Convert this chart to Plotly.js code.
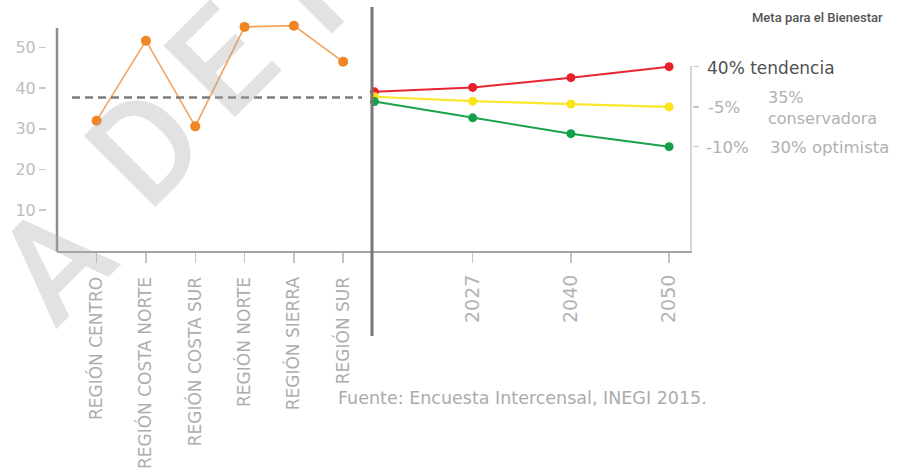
<!DOCTYPE html>
<html>
<head>
<meta charset="utf-8">
<script src="https://cdn.plot.ly/plotly-3.0.1.min.js"></script>
<style>html,body{margin:0;padding:0;background:#fff;}#chart{width:902px;height:474px;}</style>
</head>
<body>
<div id="chart"></div>
<script>
// ---- data ----
const regiones = ['REGIÓN CENTRO', 'REGIÓN COSTA NORTE', 'REGIÓN COSTA SUR', 'REGIÓN NORTE', 'REGIÓN SIERRA', 'REGIÓN SUR'];
const valoresRegion = [32.0, 51.7, 30.6, 55.1, 55.4, 46.5];
const metaBienestar = 37.7;
const anios = ['2015', '2027', '2040', '2050'];
const aniosEtiqueta = ['2027', '2040', '2050'];
const tendencia = [39.1, 40.2, 42.6, 45.3];
const conservadora = [37.9, 36.8, 36.1, 35.4];
const optimista = [36.7, 32.7, 28.8, 25.6];
const yTicks = [10, 20, 30, 40, 50];
const tituloMeta = 'Meta para el Bienestar';
const fuente = 'Fuente: Encuesta Intercensal, INEGI 2015.';
const letrasMarca = ['A', 'D', 'E', 'T'];

// ---- helpers (pixel -> paper) ----
const W = 902, H = 474;
const px = x => x / W;
const py = y => 1 - y / H;

const FONT = 'DejaVu Sans';
const gray = '#ababab';

const traces = [
  {x: regiones, y: valoresRegion, xaxis: 'x', yaxis: 'y', type: 'scatter', mode: 'lines+markers', cliponaxis: false,
   line: {color: '#f5a25a', width: 1.6}, marker: {color: '#ef8523', size: 10}, hoverinfo: 'skip'},
  {x: anios, y: tendencia, xaxis: 'x2', yaxis: 'y2', type: 'scatter', mode: 'lines+markers', cliponaxis: false,
   line: {color: '#ea2430', width: 2}, marker: {color: '#e8202a', size: 9}, hoverinfo: 'skip'},
  {x: anios, y: conservadora, xaxis: 'x2', yaxis: 'y2', type: 'scatter', mode: 'lines+markers', cliponaxis: false,
   line: {color: '#fbe62a', width: 2.2}, marker: {color: '#f9e41a', size: 9}, hoverinfo: 'skip'},
  {x: anios, y: optimista, xaxis: 'x2', yaxis: 'y2', type: 'scatter', mode: 'lines+markers', cliponaxis: false,
   line: {color: '#1aa24c', width: 2}, marker: {color: '#14a048', size: 9}, hoverinfo: 'skip'}
];

const Y_MAX = 57;
const yDomain = [py(250.6), py(250.6 - Y_MAX * 4.06)];
const ends = [tendencia[3], conservadora[3], optimista[3]];

// watermark letter placement (pixel centres)
const marcaPos = [[54, 262], [146, 147], [222, 62], [304, -6]];
const marcaAnn = letrasMarca.map((t, i) => ({
  text: t, xref: 'paper', yref: 'paper', x: px(marcaPos[i][0]), y: py(marcaPos[i][1]),
  xanchor: 'center', yanchor: 'middle', textangle: -45, showarrow: false,
  font: {family: 'Roboto', size: 142, color: 'rgba(170,170,170,0.34)', weight: 500}
}));

const small = {family: FONT, size: 16.5, color: '#b0b0b0'};

const layout = {
  width: W, height: H,
  margin: {l: 0, r: 0, t: 0, b: 0},
  paper_bgcolor: '#fff', plot_bgcolor: 'rgba(0,0,0,0)',
  showlegend: false,
  font: {family: FONT, color: gray},
  xaxis: {
    domain: [px(57), px(372)], type: 'category', categoryarray: regiones,
    range: [-0.805, 5.585], anchor: 'y',
    showline: true, linecolor: '#a3a3a3', linewidth: 2.5,
    ticks: 'outside', ticklen: 10, tickwidth: 1.5, tickcolor: '#c4c4c4',
    tickangle: -90, tickfont: {family: FONT, size: 17, color: '#adadad'},
    ticklabelstandoff: 7,
    showgrid: false, zeroline: false, fixedrange: true
  },
  yaxis: {
    domain: yDomain, range: [0, Y_MAX], anchor: 'free', position: px(46),
    showline: false, ticks: 'outside', ticklen: 7, tickwidth: 1.5, tickcolor: '#c8c8c8',
    tickvals: yTicks, tickfont: {family: FONT, size: 16, color: '#bdbdbd'},
    showgrid: false, zeroline: false, fixedrange: true
  },
  xaxis2: {
    domain: [px(372), px(691.5)], type: 'category', categoryarray: anios,
    range: [-0.025, 3.228], anchor: 'y2', tickvals: aniosEtiqueta,
    showline: true, linecolor: '#a3a3a3', linewidth: 2.5,
    ticks: 'outside', ticklen: 10, tickwidth: 1.5, tickcolor: '#c4c4c4',
    tickangle: -90, tickfont: {family: FONT, size: 19, color: '#b3b3b3'},
    ticklabelstandoff: 4,
    showgrid: false, zeroline: false, fixedrange: true
  },
  yaxis2: {
    domain: yDomain, range: [0, Y_MAX], anchor: 'x2', side: 'right',
    showline: false, ticks: 'outside', ticklen: 6, tickwidth: 1.5, tickcolor: '#c8c8c8',
    tickvals: ends, showticklabels: false,
    showgrid: false, zeroline: false, fixedrange: true
  },
  shapes: [
    {type: 'line', xref: 'paper', yref: 'paper', x0: px(57), x1: px(57), y0: py(251.5), y1: py(28),
     line: {color: '#8e8e8e', width: 2.5}},
    {type: 'line', xref: 'paper', yref: 'paper', x0: px(372), x1: px(372), y0: py(336), y1: py(7),
     line: {color: '#777', width: 3}},
    {type: 'line', xref: 'paper', yref: 'paper', x0: px(691), x1: px(691), y0: py(251.5), y1: py(66),
     line: {color: '#c8c8c8', width: 1.5}},
    {type: 'line', xref: 'paper', yref: 'y', x0: px(72), x1: px(362), y0: metaBienestar, y1: metaBienestar,
     line: {color: '#7d7d7d', width: 2.5, dash: '8px,5px'}}
  ],
  annotations: marcaAnn.concat([
    {text: tituloMeta, xref: 'paper', yref: 'paper', x: px(817), y: py(18), xanchor: 'center', yanchor: 'middle',
     showarrow: false, font: {family: 'Roboto', size: 13, color: '#555', weight: 500}},
    {text: '40% tendencia', xref: 'paper', yref: 'paper', x: px(705), y: py(68), xanchor: 'left', yanchor: 'middle',
     showarrow: false, font: {family: FONT, size: 17, color: '#4f4f4f'}},
    {text: '-5%', xref: 'paper', yref: 'paper', x: px(706), y: py(107), xanchor: 'left', yanchor: 'middle',
     showarrow: false, font: small},
    {text: '35%<br>conservadora', xref: 'paper', yref: 'paper', x: px(766), y: py(108), xanchor: 'left', yanchor: 'middle',
     align: 'left', showarrow: false, font: {family: FONT, size: 16, color: '#b0b0b0'}},
    {text: '-10%', xref: 'paper', yref: 'paper', x: px(704), y: py(147), xanchor: 'left', yanchor: 'middle',
     showarrow: false, font: small},
    {text: '30% optimista', xref: 'paper', yref: 'paper', x: px(768), y: py(147), xanchor: 'left', yanchor: 'middle',
     showarrow: false, font: small},
    {text: fuente, xref: 'paper', yref: 'paper', x: px(336), y: py(398), xanchor: 'left', yanchor: 'middle',
     showarrow: false, font: {family: FONT, size: 17.5, color: '#ababab'}}
  ])
};

Plotly.newPlot('chart', traces, layout, {displayModeBar: false, staticPlot: true});
</script>
</body>
</html>
